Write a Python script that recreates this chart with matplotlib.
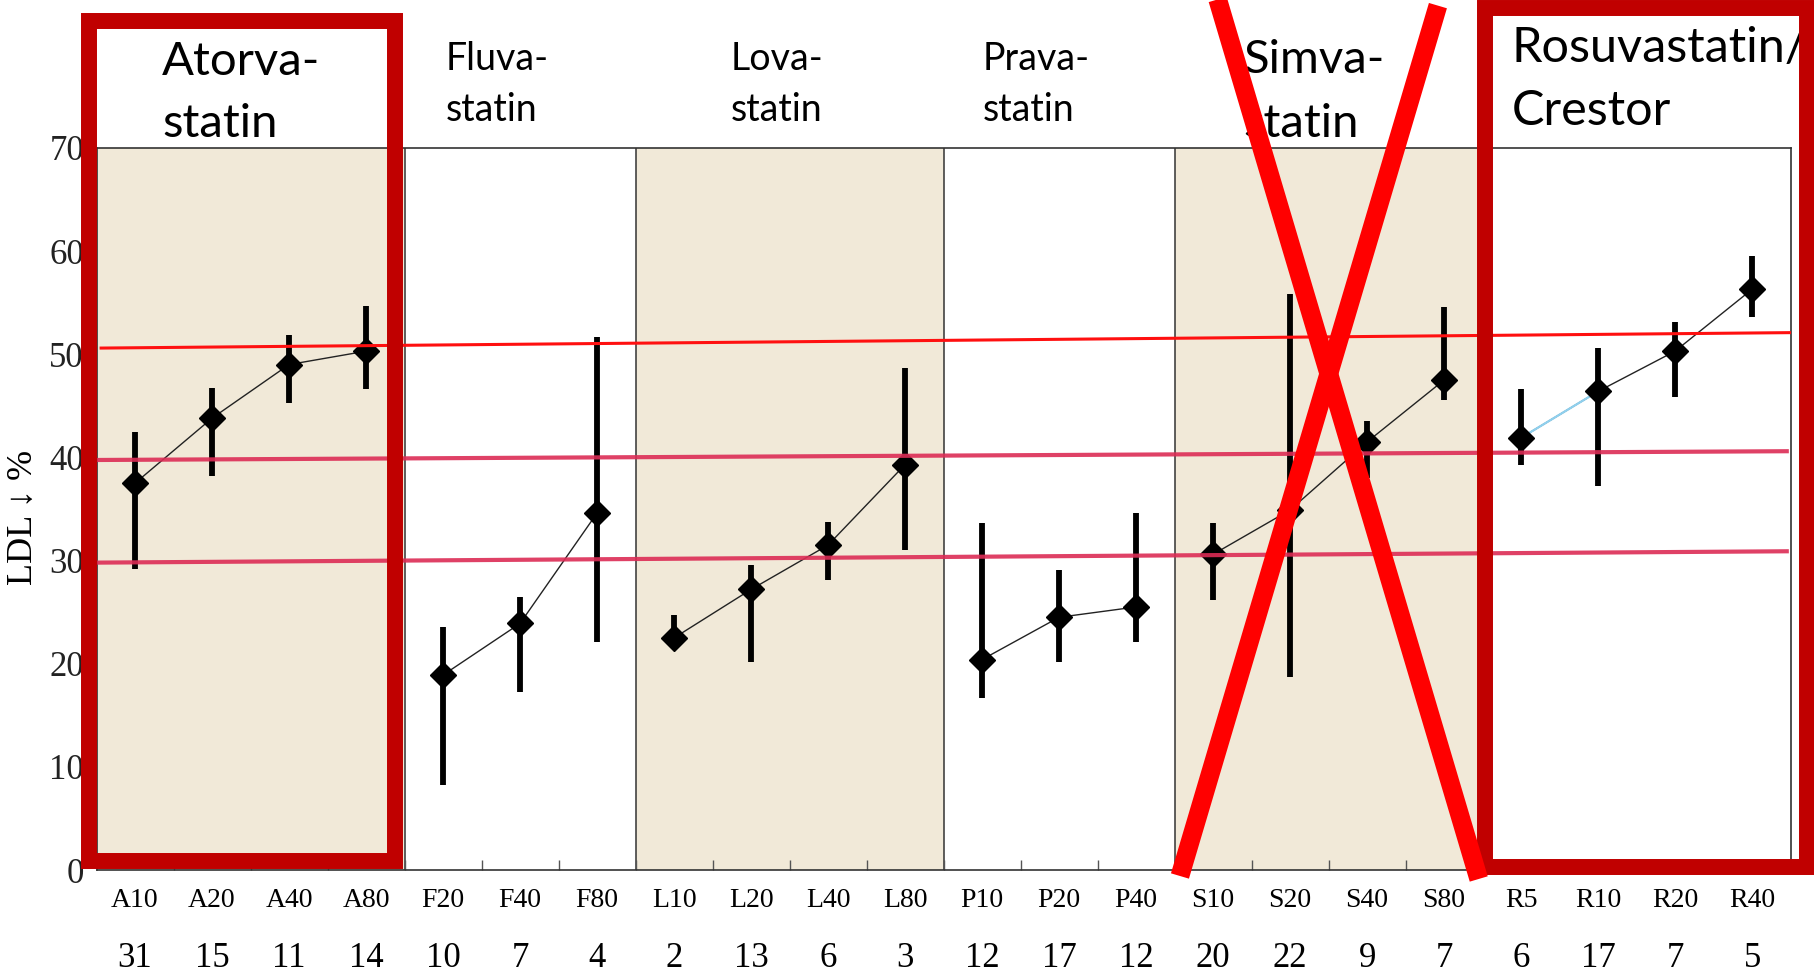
import numpy as np
import matplotlib.pyplot as plt
from matplotlib.patches import Rectangle
from matplotlib.lines import Line2D

# LDL reduction per statin dose arm: mean and observed range (%)
doses = ["A10", "A20", "A40", "A80", "F20", "F40", "F80",
         "L10", "L20", "L40", "L80", "P10", "P20", "P40",
         "S10", "S20", "S40", "S80", "R5", "R10", "R20", "R40"]
n_studies = [31, 15, 11, 14, 10, 7, 4, 2, 13, 6, 3, 12, 17, 12,
             20, 22, 9, 7, 6, 17, 7, 5]
ldl_mean = [37.5, 43.8, 49.0, 50.3, 18.9, 23.9, 34.6, 22.5, 27.2, 31.5, 39.3,
            20.4, 24.5, 25.5, 30.6, 34.9, 41.5, 47.5, 41.9, 46.4, 50.3, 56.3]
ldl_low = [29.2, 38.2, 45.3, 46.6, 8.2, 17.3, 22.1, 21.8, 20.2, 28.1, 31.0,
           16.7, 20.2, 22.1, 26.2, 18.7, 38.0, 45.6, 39.3, 37.2, 45.9, 53.6]
ldl_high = [42.5, 46.7, 51.9, 54.7, 23.6, 26.5, 51.7, 24.7, 29.6, 33.7, 48.7,
            33.6, 29.1, 34.6, 33.6, 55.8, 43.5, 54.6, 46.6, 50.6, 53.1, 59.5]

drug_names = [["Atorva-", "statin"], ["Fluva-", "statin"], ["Lova-", "statin"],
              ["Prava-", "statin"], ["Simva-", "statin"], ["Rosuvastatin/", "Crestor"]]
group_sizes = [4, 3, 4, 3, 4, 4]

# hand-drawn guide levels (left end, right end)
guide_red = (50.6, 52.1)
guide_pink = [(39.75, 40.6), (29.8, 30.9)]

# heading layout: left x, first/second baseline, font size
label_x = [0.35, 4.04, 7.73, 11.01, 14.39, 17.88]
label_y = [(77.1, 71.1), (77.6, 72.6), (77.6, 72.6), (77.6, 72.6), (77.3, 71.1), (78.3, 72.2)]
label_size = [34, 27, 27, 27, 34, 35]

serif = "Liberation Serif"
beige = "#f1e9d8"

fig = plt.figure(figsize=(18.14, 9.76), dpi=100)
ax = fig.add_axes([0.0532, 0.1086, 0.9339, 0.7398])

x = np.arange(len(doses))
ax.set_xlim(-0.5, len(doses) - 0.5)
ax.set_ylim(0, 70)

starts = np.cumsum([0] + group_sizes[:-1])
for i, (s, n) in enumerate(zip(starts, group_sizes)):
    if i % 2 == 0:
        ax.axvspan(s - 0.5, s + n - 0.5, color=beige, lw=0, zorder=0)
    if i > 0:
        ax.axvline(s - 0.5, color="#333333", lw=1.1, zorder=1)
    # dose-response line inside each drug
    ax.plot(x[s:s + n], ldl_mean[s:s + n], color="#222222", lw=1.0, zorder=3)
    for line, yb in zip(drug_names[i], label_y[i]):
        ax.text(label_x[i], yb, line, family="Lato", fontsize=label_size[i],
                ha="left", va="baseline", clip_on=False)

# first rosuvastatin segment is highlighted in light blue
s_last = starts[-1]
ax.plot(x[s_last:s_last + 2], ldl_mean[s_last:s_last + 2], color="#8fd0ee", lw=1.6, zorder=3.2)

ax.vlines(x, ldl_low, ldl_high, color="black", lw=4.2, zorder=4)
ax.plot(x, ldl_mean, linestyle="none", marker="D", ms=13, color="black", zorder=5)

# guide lines
ax.plot([-0.44, 21.55], guide_red, color="#ff1010", lw=2.2, zorder=6)
for lv in guide_pink:
    ax.plot([-0.5, 21.45], lv, color="#dc2c55", lw=3.0, alpha=0.9, zorder=6)

# axes styling
for sp in ax.spines.values():
    sp.set_color("#333333")
    sp.set_linewidth(1.2)
ax.set_yticks(range(0, 71, 10))
ax.set_yticklabels([str(v) for v in range(0, 71, 10)], family=serif, fontsize=25, color="#222222")
ax.tick_params(axis="y", length=0, pad=9)
ax.set_xticks(x)
ax.set_xticklabels([])
ax.tick_params(axis="x", which="major", length=0)
ax.set_xticks(x[:-1] + 0.5, minor=True)
ax.tick_params(axis="x", which="minor", direction="in", length=7, color="#555555", width=1)

xt = ax.get_xaxis_transform()
for xi, d, n in zip(x, doses, n_studies):
    ax.text(xi, -0.0512, d, transform=xt, ha="center", va="baseline", family=serif, fontsize=20)
    ax.text(xi, -0.1343, str(n), transform=xt, ha="center", va="baseline", family=serif, fontsize=25)

fig.text(23 / 1814, 1 - 517 / 976, "LDL ↓ %", rotation=90, ha="center", va="center",
         family=serif, fontsize=26)

# highlight boxes around atorvastatin and rosuvastatin
box_kw = dict(fill=False, ec="#c00000", lw=11.5, clip_on=False, zorder=10, joinstyle="miter")
ax.add_patch(Rectangle((-0.597, 0.87), 3.974, 81.43, **box_kw))
ax.add_patch(Rectangle((17.53, 0.29), 4.18, 83.31, **box_kw))

# simvastatin crossed out
for (x0, y0), (x1, y1) in [((14.06, 84.4), (17.45, -0.87)), ((16.92, 83.8), (13.57, -0.58))]:
    ax.add_line(Line2D([x0, x1], [y0, y1], color="#ff0000", lw=13.5, clip_on=False,
                       solid_capstyle="butt", zorder=11))

fig.savefig("out.png", dpi=100)
